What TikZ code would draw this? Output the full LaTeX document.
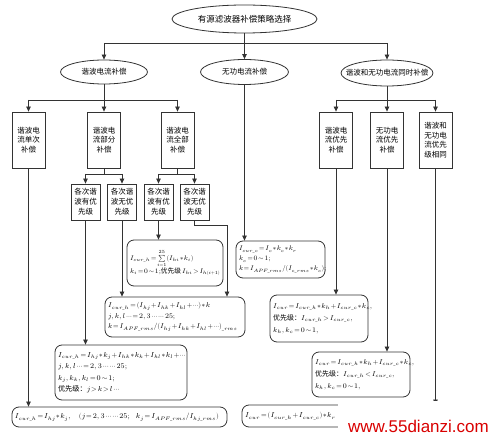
\documentclass[tikz,border=0pt]{standalone}
\usepackage{fontspec}
\usepackage{unicode-math}
\setmathfont{Latin Modern Math}
\newfontfamily\cjk{Noto Sans CJK SC}
\newfontfamily\wmfont{Liberation Sans}
\usetikzlibrary{shapes.geometric,arrows.meta}
\newcommand{\fsetup}{\medmuskip=1.5mu\thickmuskip=2.5mu\binoppenalty=10000\relpenalty=10000}
\newcommand{\ub}{\mathchar"5F}
\begin{document}
\begin{tikzpicture}[x=1pt,y=-1pt,
  line/.style={draw=black!80, line width=0.8pt},
  arr/.style={line, -{Triangle[length=5pt,width=4.5pt]}},
  ell/.style={ellipse, draw=black!80, line width=0.8pt, inner sep=0pt, fill=white, font=\cjk\fontsize{7.5}{9}\selectfont},
  cbox/.style={rectangle, draw=black!80, line width=0.8pt, fill=white, minimum width=33pt, minimum height=56pt, inner sep=1pt, align=center, font=\cjk\fontsize{7.5}{9.5}\selectfont},
  sbox/.style={rectangle, draw=black!80, line width=0.8pt, fill=white, minimum width=29pt, minimum height=36pt, inner sep=1pt, align=center, font=\cjk\fontsize{7.5}{10}\selectfont},
  fbox/.style={rectangle, rounded corners=7pt, draw=black!80, line width=0.8pt, fill=white, align=left, inner sep=3pt, font=\fontsize{7}{10.5}\selectfont\fsetup}]
\useasboundingbox (0,0) rectangle (491,438);

% ellipses
\node[ell, minimum width=145pt, minimum height=28pt, font=\cjk\fontsize{8.5}{9}\selectfont] (top) at (244.5,19) {\makebox[0pt]{有源滤波器补偿策略选择}};
\node[ell, minimum width=87pt, minimum height=24pt] (e1) at (104,72) {\makebox[0pt]{谐波电流补偿}};
\node[ell, minimum width=88pt, minimum height=25pt] (e2) at (244.5,72) {\makebox[0pt]{无功电流补偿}};
\node[ell, minimum width=92pt, minimum height=26pt] (e3) at (387,73) {\makebox[0pt]{谐波和无功电流同时补偿}};

% first row boxes
\node[cbox] (b1) at (28.5,140) {谐波电\\流单次\\补偿};
\node[cbox] (b2) at (104,140) {谐波电\\流部分\\补偿};
\node[cbox] (b3) at (177.5,140) {谐波电\\流全部\\补偿};
\node[cbox] (b4) at (336,140) {谐波电\\流优先\\补偿};
\node[cbox] (b5) at (387,140) {无功电\\流优先\\补偿};
\node[cbox] (b6) at (435.5,140) {谐波和\\无功电\\流优先\\级相同};

% sub boxes
\node[sbox] (s1) at (85.5,202) {各次谐\\波有优\\先级};
\node[sbox] (s2) at (122,202) {各次谐\\波无优\\先级};
\node[sbox] (s3) at (158.5,202) {各次谐\\波有优\\先级};
\node[sbox] (s4) at (194.5,202) {各次谐\\波无优\\先级};

% formula boxes
\node[fbox, minimum width=96pt, minimum height=46pt, text width=90pt, font=\fontsize{6.7}{13}\selectfont\fsetup] (f1) at (175,263)
  {$I_{cur\ub h}=\sum\limits_{i=1}^{25}(I_{hi}*k_i)$\\
   $k_i=0\sim1$;{\cjk 优先级}$\,I_{hi}>I_{h(i+1)}$};
\node[fbox, minimum width=89pt, minimum height=37pt, text width=83pt, font=\fontsize{6.7}{10}\selectfont\fsetup] (f2) at (280.5,259.5)
  {$I_{cur\ub c}=I_c*k_c*k_r$\\
   $k_c=0\sim1;$\\
   $k=I_{APF\ub rms}/(I_{c\ub rms}*k_c)$;};
\node[fbox, minimum width=140pt, minimum height=40pt, text width=134pt, font=\fontsize{7}{10.5}\selectfont\fsetup] (f3) at (175,317)
  {$I_{cur\ub h}=(I_{hj}+I_{hk}+I_{hl}+\cdots)*k$\\
   $j,k,l\cdots=2,3\cdots\cdots25;$\\
   $k=I_{APF\ub rms}/(I_{hj}+I_{hk}+I_{hl}+\cdots)_{\ub rms}$};
\node[fbox, minimum width=132pt, minimum height=55pt, text width=126pt, font=\fontsize{7.2}{11.5}\selectfont\fsetup] (f4) at (121,372.5)
  {$I_{cur\ub h}=I_{hj}*k_j+I_{hk}*k_k+I_{hl}*k_l+\cdots$\\
   $j,k,l\cdots=2,3\cdots\cdots25;$\\
   $k_j,k_k,k_l=0\sim1;$\\
   {\cjk 优先级：}$j>k>l\cdots$};
\node[fbox, minimum width=215pt, minimum height=20pt, text width=209pt, font=\fontsize{7.2}{10}\selectfont\fsetup] (f5) at (119.5,417)
  {$I_{cur\ub h}=I_{hj}*k_j,\quad(j=2,3\cdots\cdots25;\ \ k_j=I_{APF\ub rms}/I_{hj\ub rms})$};
\node[fbox, minimum width=98pt, minimum height=47pt, text width=92pt, font=\fontsize{7}{12}\selectfont\fsetup] (f6) at (319,318.5)
  {$I_{cur}=I_{cur\ub h}*k_h+I_{cur\ub c}*k_c$,\\
   {\cjk 优先级：}$I_{cur\ub h}>I_{cur\ub c}$,\\
   $k_h,k_c=0\sim1$,};
\node[fbox, minimum width=98pt, minimum height=45pt, text width=92pt, font=\fontsize{7}{12}\selectfont\fsetup] (f7) at (361,374.5)
  {$I_{cur}=I_{cur\ub h}*k_h+I_{cur\ub c}*k_c$,\\
   {\cjk 优先级：}$I_{cur\ub h}<I_{cur\ub c}$,\\
   $k_h,k_c=0\sim1$,};
\node[fbox, minimum width=213pt, minimum height=22pt, text width=207pt, font=\fontsize{7.2}{10}\selectfont\fsetup] (f8) at (348.5,416)
  {$I_{cur}=(I_{cur\ub h}+I_{cur\ub c})*k_r$};

% connectors top level
\coordinate (j0) at (0,43);
\draw[line] (e1.north |- j0) -- (e3.north |- j0);
\draw[arr] (top.south) -- (e2.north);
\draw[arr] (e1.north |- j0) -- (e1.north);
\draw[arr] (e3.north |- j0) -- (e3.north);

% second level
\coordinate (j1) at (0,100);
\draw[line] (e1.south) -- (e1.south |- j1);
\draw[line] (b1.north |- j1) -- (b3.north |- j1);
\draw[arr] (b1.north |- j1) -- (b1.north);
\draw[arr] (b2.north |- j1) -- (b2.north);
\draw[arr] (b3.north |- j1) -- (b3.north);
\draw[line] (e3.south) -- (e3.south |- j1);
\draw[line] (b4.north |- j1) -- (b6.north |- j1);
\draw[arr] (b4.north |- j1) -- (b4.north);
\draw[arr] (b5.north |- j1) -- (b5.north);
\draw[arr] (b6.north |- j1) -- (b6.north);

% third level
\coordinate (j2) at (0,174);
\draw[line] (b2.south) -- (b2.south |- j2);
\draw[line] (s1.north |- j2) -- (s2.north |- j2);
\draw[arr] (s1.north |- j2) -- (s1.north);
\draw[arr] (s2.north |- j2) -- (s2.north);
\draw[line] (b3.south) -- (b3.south |- j2);
\draw[line] (s3.north |- j2) -- (s4.north |- j2);
\draw[arr] (s3.north |- j2) -- (s3.north);
\draw[arr] (s4.north |- j2) -- (s4.north);

% down to formulas
\draw[arr] (b1.south) -- (b1.south |- f5.north);
\draw[arr] (s1.south) -- (s1.south |- f4.north);
\draw[arr] (s2.south) -- (s2.south |- f3.north);
\draw[arr] (s3.south) -- (s3.south |- f1.north);
\coordinate (k4) at (227,225);
\draw[arr] (s4.south) -- (s4.south |- k4) -- (k4) -- (k4 |- f3.north);
\draw[arr] (e2.south) -- (e2.south |- f2.north);
\draw[arr] (b4.south) -- (b4.south |- f6.north);
\draw[arr] (b5.south) -- (b5.south |- f7.north);
\draw[arr] (b6.south) -- (b6.south |- f8.north);

% watermark
\fill[white] (338,401) rectangle (491,438);
\node[text=red!85!black, font=\wmfont\fontsize{17}{17}\selectfont, anchor=base east, inner sep=0pt] (wm) at (489,433) {www.55dianzi.com};
\end{tikzpicture}
\end{document}
